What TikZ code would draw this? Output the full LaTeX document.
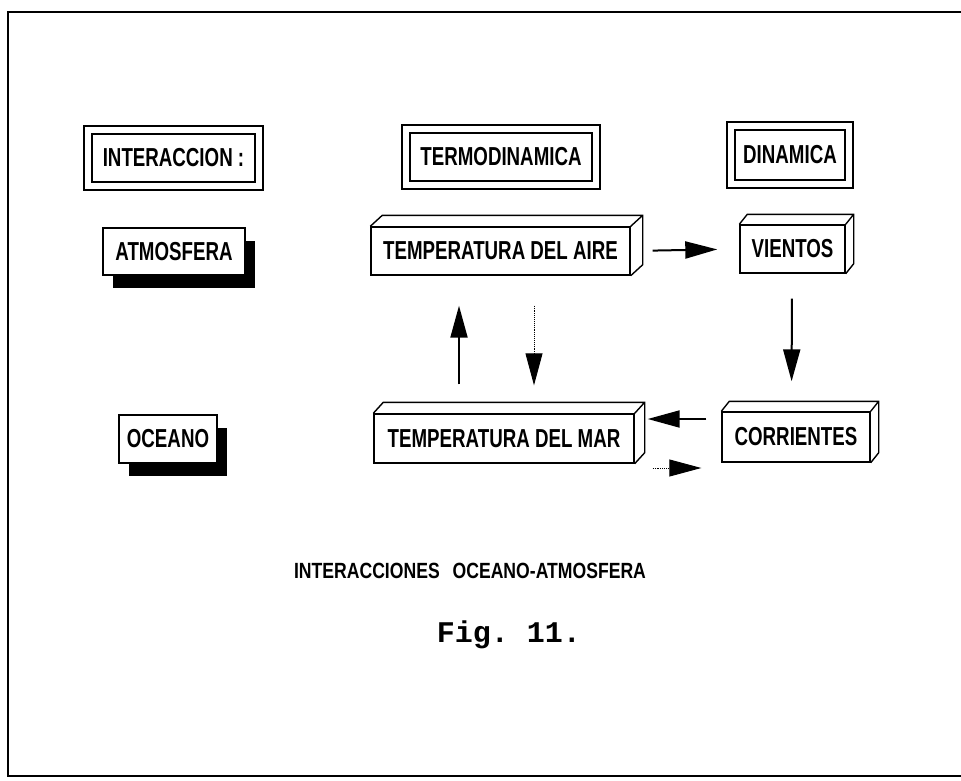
\documentclass[tikz,border=0pt]{standalone}
\usepackage{fontspec}
\newfontfamily\cajafont[FakeStretch=0.72]{Liberation Sans}
\newfontfamily\piefont[FakeStretch=0.8]{Liberation Sans}
\setmonofont{Liberation Mono}
\usetikzlibrary{arrows.meta,shadows}
\tikzset{
  borde/.style={line width=1.4pt,line join=miter},
  caja/.style={borde,draw,fill=white,inner sep=0pt,minimum height=48pt,
    font=\fontsize{26}{28}\selectfont\cajafont\bfseries},
  titulo/.style={caja,double,double distance=6.5pt},
  sombra/.style={caja,drop shadow={shadow xshift=10pt,shadow yshift=-13pt,
    fill=black,opacity=1}},
  flecha/.style={line width=2pt,-{Triangle[length=32pt,width=17pt]}},
  punteada/.style={flecha,line width=0.9pt,densely dotted}
}

\begin{document}
\begin{tikzpicture}[x=1pt,y=-1pt]
        \useasboundingbox (0,0) rectangle (961,781);
        \draw [line width=1.6pt] (961,12) -- (8,12) -- (8,776) -- (961,776);

        \node [titulo,minimum width=171pt,minimum height=56pt] (interaccion) at (173.5,158) {INTERACCION :};
        \node [titulo,minimum width=190pt,minimum height=56pt] (termo)       at (501,157)   {TERMODINAMICA};
        \node [titulo,minimum width=118pt,minimum height=58pt] (dinamica)    at (790,155)   {DINAMICA};

        \node [sombra,minimum width=142pt,minimum height=47pt] (atmos)  at (174,251.5) {ATMOSFERA};
        \node [sombra,minimum width=98pt]                      (oceano) at (168,439)   {OCEANO};

        \node [caja,minimum width=259pt]                      (aire)    at (500.5,251) {TEMPERATURA DEL AIRE};
        \node [caja,minimum width=105pt]                      (vientos) at (792.5,249) {VIENTOS};
        \node [caja,minimum width=260pt,minimum height=49pt]  (mar)     at (504,438.5) {TEMPERATURA DEL MAR};
        \node [caja,minimum width=148pt,minimum height=50pt]  (corr)    at (796,437)   {CORRIENTES};

        % caras de las cajas
        \foreach \n/\dx/\dy in {aire/12/11,vientos/8/10,mar/10/11,corr/8/10}
          \draw [borde] (\n.north west) -- ++(\dx pt,\dy pt)
                -- ([shift={(\dx pt,\dy pt)}]\n.north east)
                -- ([shift={(\dx pt,\dy pt)}]\n.south east) -- (\n.south east)
                (\n.north east) -- ++(\dx pt,\dy pt);

        \draw [flecha]   (aire.east) -- (vientos.west) [shorten <=22pt,shorten >=22pt];
        \draw [flecha]   ([xshift=-0.5pt]vientos.south) -- ([xshift=-4.5pt]corr.north) [shorten <=25pt,shorten >=30pt];
        \draw [flecha]   ([yshift=18pt]corr.west) -- ([yshift=19.5pt]mar.east) [shorten <=15pt,shorten >=13pt];
        \draw [punteada] ([yshift=-29.5pt]mar.east) -- ([yshift=-31pt]corr.west) [shorten <=18pt,shorten >=20pt];
        \draw [flecha]   ([xshift=-45pt]mar.north) -- ([xshift=-41.5pt]aire.south) [shorten <=29pt,shorten >=30pt];
        \draw [punteada] ([xshift=33.5pt]aire.south) -- ([xshift=30pt]mar.north) [shorten <=30pt,shorten >=28pt];

        \node (leyenda) at (470,571) {\fontsize{22}{24}\selectfont\piefont\bfseries INTERACCIONES\hspace{8pt} OCEANO-ATMOSFERA};
        \node (fig)     at (509,635) {\fontsize{30}{32}\selectfont\ttfamily\bfseries Fig. 11.};
      \end{tikzpicture}
\end{document}
